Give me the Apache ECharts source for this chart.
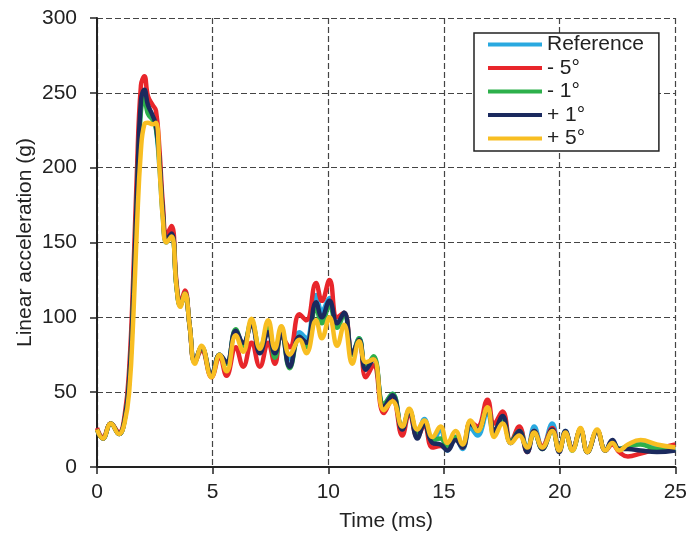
<!DOCTYPE html>
<html>
<head>
<meta charset="utf-8">
<script src="https://cdn.jsdelivr.net/npm/echarts@6/dist/echarts.min.js"></script>
<style>html,body{margin:0;padding:0;background:#fff}#c{width:690px;height:542px}</style>
</head>
<body>
<div id="c"></div>
<script>
var seriesNames = ['Reference', '- 5°', '- 1°', '+ 1°', '+ 5°'];
var colors = ['#29A9E0', '#E8262B', '#2DB04B', '#1B2A5E', '#F8BE22'];
var xTicks = [0, 5, 10, 15, 20, 25];
var yTicks = [0, 50, 100, 150, 200, 250, 300];

var time = [0, 0.25, 0.6, 0.95, 1.2, 1.4, 1.57, 1.72, 1.9, 2.05, 2.2, 2.4, 2.55, 2.7, 2.85, 3.0, 3.22, 3.44, 3.6, 3.8, 4.0, 4.23, 4.52, 4.95, 5.3, 5.6, 6.0, 6.32, 6.68, 7.04, 7.4, 7.69, 7.97, 8.33, 8.75, 9.05, 9.47, 9.72, 10.05, 10.38, 10.68, 11.04, 11.33, 11.62, 11.95, 12.4, 12.77, 13.2, 13.5, 13.85, 14.15, 14.5, 14.85, 15.15, 15.5, 15.8, 16.15, 16.45, 16.88, 17.17, 17.53, 17.89, 18.25, 18.6, 18.9, 19.25, 19.68, 19.98, 20.25, 20.55, 20.9, 21.2, 21.62, 21.98, 22.28, 22.57, 22.95, 23.5, 24.2, 25];

var reference = [25, 19, 29, 22, 32, 62, 118, 182, 242, 249, 240, 234, 226, 200, 166, 150, 155, 120, 108, 116, 95, 70, 80, 61, 75, 69, 90, 82, 96, 78, 92, 76, 90, 72, 90, 86, 115, 104, 113, 96, 103, 76, 86, 65, 73, 41, 49, 25, 38, 22, 32, 16, 25, 11, 20, 12, 26, 21, 36, 22, 32, 16, 26, 12, 27, 13, 29, 11, 24, 12, 25, 10, 24, 11, 17, 12, 14, 16, 13, 12];
var minus5 = [26, 20, 29, 23, 35, 68, 128, 195, 255, 261, 248, 242, 238, 212, 175, 155, 161, 123, 110, 118, 95, 70, 78, 60, 74, 61, 80, 67, 83, 67, 83, 69, 87, 80, 102, 98, 123, 111, 125, 100, 103, 76, 84, 60, 68, 36, 46, 21, 36, 20, 28, 13, 14, 12, 20, 13, 30, 27, 45, 29, 37, 17, 27, 10, 24, 14, 26, 11, 23, 12, 25, 10, 24, 11, 15, 10, 7, 9, 12, 15];
var minus1 = [25, 19, 29, 22, 32, 60, 114, 178, 238, 246, 236, 232, 226, 203, 168, 151, 155, 120, 108, 116, 95, 70, 80, 61, 75, 69, 92, 81, 97, 80, 93, 73, 90, 66, 87, 80, 106, 96, 108, 93, 102, 75, 86, 66, 74, 42, 49, 26, 38, 21, 30, 18, 19, 13, 20, 15, 30, 24, 39, 23, 33, 17, 24, 12, 23, 12, 24, 11, 23, 11, 25, 10, 24, 11, 17, 12, 14, 15, 12, 12];
var plus1 = [25, 19, 29, 22, 32, 60, 115, 180, 245, 252, 242, 235, 228, 205, 170, 152, 156, 121, 108, 116, 95, 71, 80, 62, 75, 70, 91, 83, 95, 76, 90, 76, 89, 67, 87, 83, 110, 100, 111, 96, 103, 76, 85, 65, 72, 40, 48, 25, 38, 19, 29, 16, 15, 11, 18, 13, 29, 25, 39, 24, 34, 16, 24, 10, 24, 12, 25, 10, 24, 12, 25, 10, 24, 11, 18, 12, 12, 11, 10, 11];
var plus5 = [25, 19, 29, 22, 30, 52, 100, 158, 212, 229, 230, 229, 230, 200, 165, 150, 154, 120, 107, 116, 95, 69, 81, 60, 75, 64, 88, 77, 99, 79, 98, 79, 94, 75, 85, 76, 98, 86, 100, 81, 95, 69, 84, 70, 72, 38, 44, 27, 39, 25, 31, 20, 27, 16, 24, 15, 31, 24, 40, 20, 29, 16, 21, 13, 23, 13, 24, 11, 23, 11, 26, 10, 25, 11, 16, 11, 15, 18, 15, 13];

var values = [reference, minus5, minus1, plus1, plus5];

function pairs(arr) {
  return time.map(function (t, i) { return [t, arr[i]]; });
}

var chart = echarts.init(document.getElementById('c'), null, { renderer: 'canvas' });
var font = 'Liberation Sans, Arial, sans-serif';
var splitStyle = { show: true, lineStyle: { color: '#444', width: 1.2, type: [6, 3] } };

chart.setOption({
  animation: false,
  backgroundColor: '#fff',
  grid: { left: 97, right: 14, top: 18, bottom: 75, containLabel: false },
  xAxis: {
    type: 'value', min: 0, max: 25, interval: 5,
    name: 'Time (ms)', nameLocation: 'middle', nameGap: 44, nameMoveOverlap: false,
    nameTextStyle: { fontFamily: font, fontSize: 21, color: '#222' },
    axisLine: { show: true, onZero: false, lineStyle: { color: '#222', width: 2 } },
    axisTick: { show: true, inside: false, length: 7, lineStyle: { color: '#222', width: 1.5 } },
    axisLabel: { fontFamily: font, fontSize: 21, color: '#222', margin: 15 },
    splitLine: splitStyle
  },
  yAxis: {
    type: 'value', min: 0, max: 300, interval: 50,
    name: 'Linear acceleration (g)', nameLocation: 'middle', nameGap: 61, nameMoveOverlap: false,
    nameTextStyle: { fontFamily: font, fontSize: 21, color: '#222' },
    axisLine: { show: true, lineStyle: { color: '#222', width: 2 } },
    axisTick: { show: true, inside: false, length: 7, lineStyle: { color: '#222', width: 1.5 } },
    axisLabel: { fontFamily: font, fontSize: 21, color: '#222', margin: 20 },
    splitLine: splitStyle
  },
  legend: {
    orient: 'vertical', left: 474, top: 33,
    padding: [1, 15, 2, 14],
    itemWidth: 54, itemHeight: 4, itemGap: 2.5,
    icon: 'rect',
    backgroundColor: '#fff', borderColor: '#222', borderWidth: 1.5,
    textStyle: { fontFamily: font, fontSize: 21, color: '#222', lineHeight: 21 },
    data: seriesNames
  },
  series: seriesNames.map(function (n, i) {
    return {
      name: n, type: 'line', data: pairs(values[i]),
      smooth: 0.45, showSymbol: false, symbol: 'none',
      lineStyle: { color: colors[i], width: 4.5 },
      itemStyle: { color: colors[i] },
      z: 2 + i
    };
  })
});
</script>
</body>
</html>
